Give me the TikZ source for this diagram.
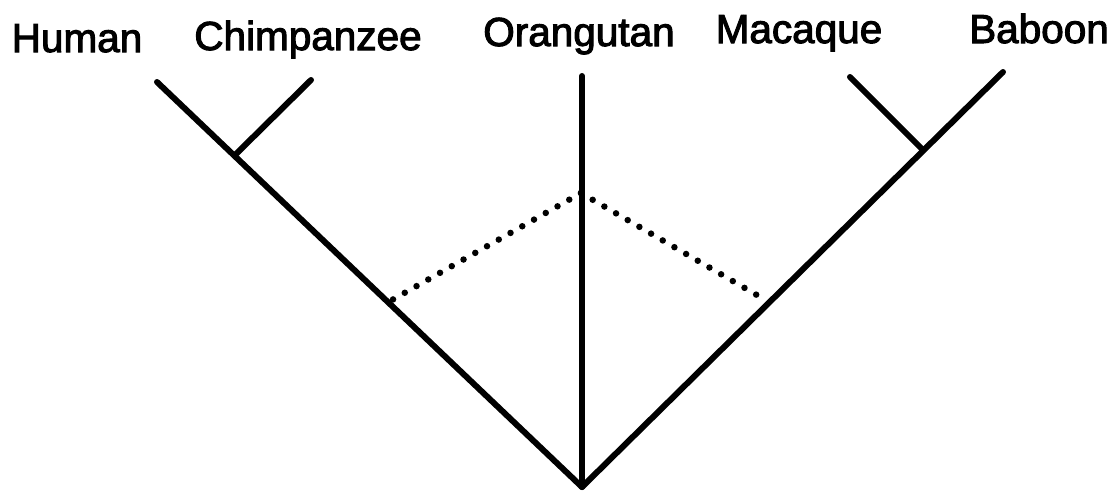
\documentclass[tikz,border=0pt]{standalone}
\usepackage{fontspec}
\setmainfont{Liberation Sans}[FakeBold=2.5]
\begin{document}
\begin{tikzpicture}[x=1pt,y=-1pt,
  branch/.style={line width=6pt,line cap=round},
  dotline/.style={line width=6.5pt,line cap=round,dash pattern=on 0pt off 13.5pt},
  taxon/.style={anchor=base,inner sep=0pt,font=\fontsize{40.5}{40.5}\selectfont}]
\useasboundingbox (0,0) rectangle (1112,491);
\fill[white] (0,0) rectangle (1112,491);
% taxon labels
\node[taxon] (human) at (77,52) {Human};
\node[taxon] (chimp) at (308,50) {Chimpanzee};
\node[taxon] (orang) at (579,46) {Orangutan};
\node[taxon] (macaq) at (799,43) {Macaque};
\node[taxon] (baboon) at (1039,43) {Baboon};
% tree coordinates
\coordinate (root) at (582,487);
\coordinate (hTop) at (157,82);
\coordinate (cJ) at (235,155);
\coordinate (cTop) at (311,80);
\coordinate (oTop) at (582,76);
\coordinate (bTop) at (1003,72);
\coordinate (mJ) at (923,150);
\coordinate (mTop) at (850,77);
\coordinate (apex) at (581,193);
\coordinate (dL) at (392,300);
\coordinate (dR) at (762,298);
% branches
\draw[branch] (root) -- (hTop);
\draw[branch] (cJ) -- (cTop);
\draw[branch] (root) -- (oTop);
\draw[branch] (root) -- (bTop);
\draw[branch] (mJ) -- (mTop);
% dotted links
\draw[dotline] (apex) -- (dL);
\draw[dotline] (apex) -- (dR);
\end{tikzpicture}
\end{document}
